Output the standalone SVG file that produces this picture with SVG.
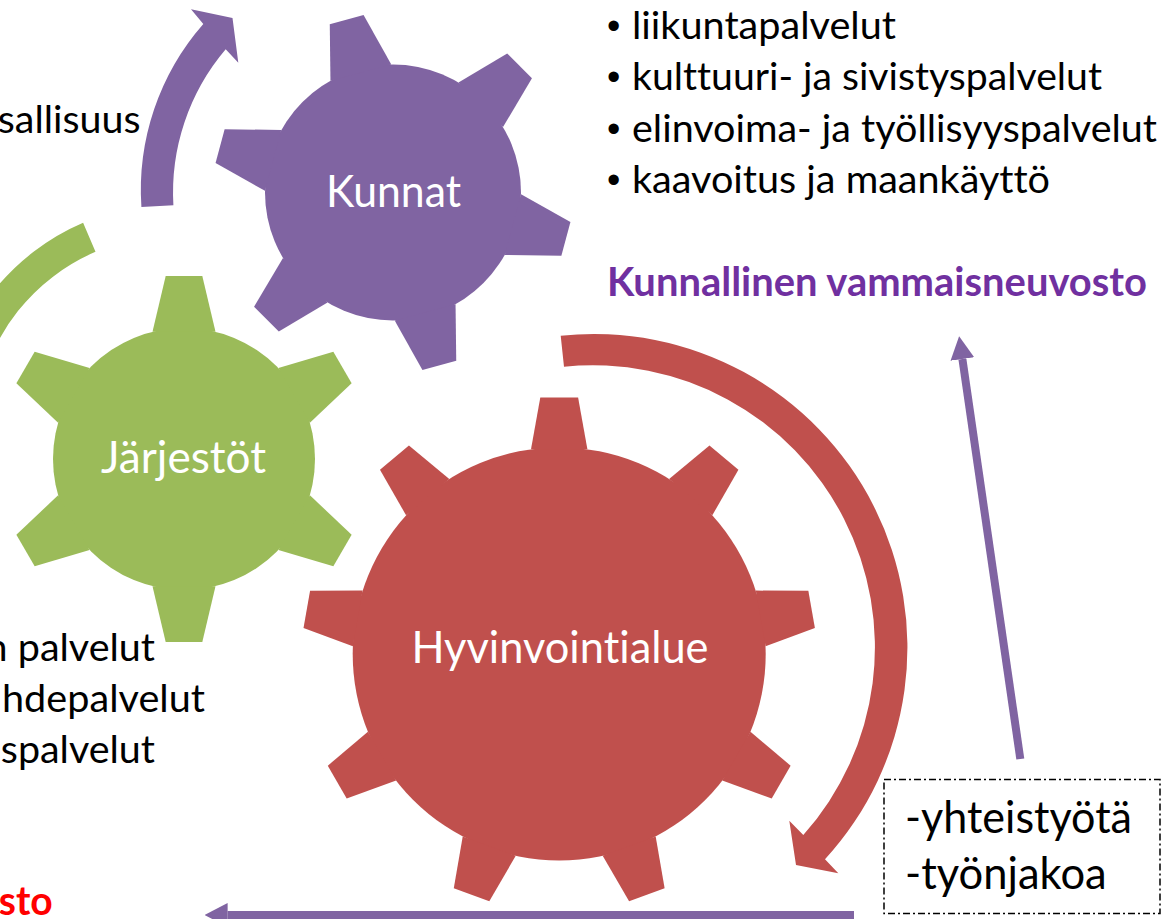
<svg xmlns="http://www.w3.org/2000/svg" width="1165" height="919" viewBox="0 0 1165 919">
<style>
text{font-variant-ligatures:none;font-feature-settings:"liga" 0,"clig" 0}
.t{font-family:Lato,"Liberation Sans",sans-serif;font-size:39.5px;fill:#000}
.bul{font-family:"Liberation Sans",Arial,sans-serif;font-size:38px}
.lbl{font-family:Lato,"Liberation Sans",sans-serif;font-size:43.5px;fill:#fff;text-anchor:middle}
.bx{font-family:Lato,"Liberation Sans",sans-serif;font-size:43.5px;fill:#000}
.end{text-anchor:end}
.b{font-weight:bold}
.pf{fill:#8064A2}.gf{fill:#9BBB59}.rf{fill:#C0504D}
.line{stroke:#8064A2;stroke-width:8;fill:none}
</style>
<defs>
<polygon id="toothK" points="124.1,-31.5 179,-17.5 179,17.5 124.1,31.5"/>
<polygon id="toothJ" points="127.2,-31.5 183,-18.3 183,18.3 127.2,31.5"/>
<polygon id="toothH" points="204.6,-28.2 256.3,-18.9 256.3,18.9 204.6,28.2"/>
<marker id="ah" markerUnits="userSpaceOnUse" markerWidth="23" markerHeight="24" refX="0" refY="12" orient="auto" viewBox="0 0 23 24"><path d="M0,0 L23,12 L0,24 Z" fill="#8064A2"/></marker>
</defs>
<rect width="1165" height="919" fill="#fff"/>

<g id="connectors">
<path class="pf" d="M141.4,207 A252 252 0 0 1 203.3,24 L191,9.3 L232.5,18 L238.3,62.7 L225.7,49.3 A221 221 0 0 0 173.4,205.2 Z"/>
<path class="gf" d="M-53.1,394.7 A230.5 230.5 0 0 1 83.1,222.8 L95.5,251.8 A199 199 0 0 0 -22.1,400.2 Z"/>
<path class="rf" d="M560.7,335.7 A313.5 313.5 0 0 1 825,859.3 L838.3,873.3 L796,865 L789.3,820.7 L803.3,835 A282 282 0 0 0 564,366.7 Z"/>
<line class="line" x1="1020.3" y1="759" x2="962.4" y2="359" marker-end="url(#ah)"/>
<line class="line" x1="854" y1="915" x2="227.6" y2="915" marker-end="url(#ah)"/>
</g>

<g id="gear-kunnat">
<g class="pf" transform="translate(393 192.5)">
<circle r="128"/>
<use href="#toothK" transform="rotate(15)"/>
<use href="#toothK" transform="rotate(75)"/>
<use href="#toothK" transform="rotate(135)"/>
<use href="#toothK" transform="rotate(195)"/>
<use href="#toothK" transform="rotate(255)"/>
<use href="#toothK" transform="rotate(315)"/>
</g>
<text class="lbl" x="393.5" y="206.7" textLength="135" lengthAdjust="spacingAndGlyphs">Kunnat</text>
</g>

<g id="gear-jarjestot">
<g class="gf" transform="translate(184 459)">
<circle r="131"/>
<use href="#toothJ" transform="rotate(-90)"/>
<use href="#toothJ" transform="rotate(-30)"/>
<use href="#toothJ" transform="rotate(30)"/>
<use href="#toothJ" transform="rotate(90)"/>
<use href="#toothJ" transform="rotate(150)"/>
<use href="#toothJ" transform="rotate(210)"/>
</g>
<text class="lbl" x="183.5" y="473.3" textLength="165" lengthAdjust="spacingAndGlyphs">Järjestöt</text>
</g>

<g id="gear-hyvinvointialue">
<g class="rf" transform="translate(559.2 653.9)">
<circle r="206.5"/>
<use href="#toothH" transform="rotate(-90)"/>
<use href="#toothH" transform="rotate(-50)"/>
<use href="#toothH" transform="rotate(-10)"/>
<use href="#toothH" transform="rotate(30)"/>
<use href="#toothH" transform="rotate(70)"/>
<use href="#toothH" transform="rotate(110)"/>
<use href="#toothH" transform="rotate(150)"/>
<use href="#toothH" transform="rotate(190)"/>
<use href="#toothH" transform="rotate(230)"/>
</g>
<text class="lbl" x="560" y="662.7" textLength="297" lengthAdjust="spacingAndGlyphs">Hyvinvointialue</text>
</g>

<g id="kunnat-list">
<text class="t" y="39"><tspan class="bul" x="607">•</tspan><tspan x="632" textLength="264" lengthAdjust="spacingAndGlyphs">liikuntapalvelut</tspan></text>
<text class="t" y="90.3"><tspan class="bul" x="607">•</tspan><tspan x="632" textLength="470" lengthAdjust="spacingAndGlyphs">kulttuuri- ja sivistyspalvelut</tspan></text>
<text class="t" y="141.6"><tspan class="bul" x="607">•</tspan><tspan x="632" textLength="525" lengthAdjust="spacingAndGlyphs">elinvoima- ja työllisyyspalvelut</tspan></text>
<text class="t" y="193"><tspan class="bul" x="607">•</tspan><tspan x="632" textLength="418" lengthAdjust="spacingAndGlyphs">kaavoitus ja maankäyttö</tspan></text>
<text class="t b" x="607" y="296" style="fill:#7030A0;font-size:40px" textLength="540" lengthAdjust="spacingAndGlyphs">Kunnallinen vammaisneuvosto</text>
</g>

<g id="left-texts">
<text class="t end" x="140.5" y="133.3" textLength="142.7" lengthAdjust="spacingAndGlyphs">sallisuus</text>
<text class="t end" x="155" y="661" textLength="169.4" lengthAdjust="spacingAndGlyphs">n palvelut</text>
<text class="t end" x="205" y="712" textLength="203" lengthAdjust="spacingAndGlyphs">hdepalvelut</text>
<text class="t end" x="155" y="763" textLength="154.2" lengthAdjust="spacingAndGlyphs">spalvelut</text>
<text class="t end b" x="52.7" y="915" style="fill:#FF0000;font-size:40px" textLength="54" lengthAdjust="spacingAndGlyphs">sto</text>
</g>

<g id="box">
<rect x="884" y="779.5" width="276" height="134" fill="none" stroke="#000" stroke-width="1.5" stroke-dasharray="7 3 2 3"/>
<text class="bx" x="905" y="833" textLength="227" lengthAdjust="spacingAndGlyphs">-yhteistyötä</text>
<text class="bx" x="905" y="889" textLength="201.7" lengthAdjust="spacingAndGlyphs">-työnjakoa</text>
</g>
</svg>
